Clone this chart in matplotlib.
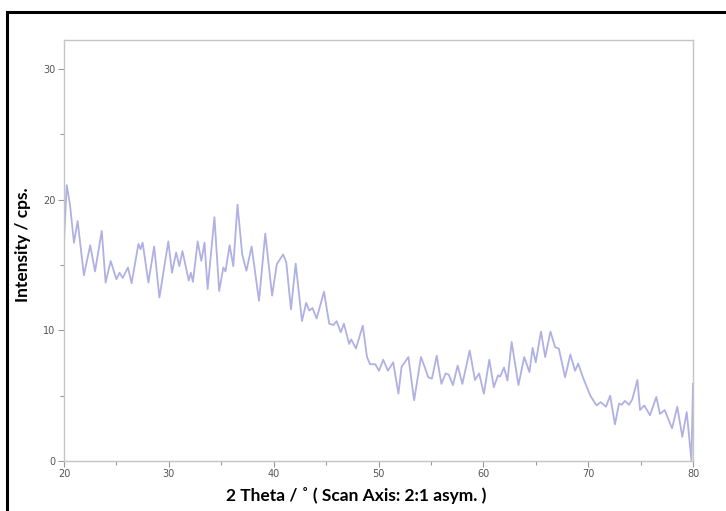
import matplotlib
matplotlib.use("Agg")
import matplotlib.pyplot as plt
from matplotlib.patches import Rectangle
from matplotlib.ticker import MultipleLocator

# scan: 2 theta (deg) and intensity (cps), read at peaks / valleys
two_theta = [
    20.0, 20.26, 20.57, 20.95, 21.3, 21.9, 22.5, 22.96, 23.6, 23.97,
    24.45, 25.0, 25.3, 25.6, 26.1, 26.45, 27.1, 27.3, 27.5, 28.05,
    28.6, 29.1, 29.95, 30.3, 30.7, 31.0, 31.3, 31.9, 32.1, 32.3,
    32.75, 33.1, 33.4, 33.7, 34.35, 34.8, 35.2, 35.4, 35.8, 36.15,
    36.55, 37.0, 37.4, 37.9, 38.6, 39.2, 39.85, 40.3, 40.9, 41.2,
    41.65, 42.1, 42.7, 43.1, 43.4, 43.7, 44.1, 44.8, 45.3, 45.7,
    46.0, 46.4, 46.7, 47.2, 47.4, 47.85, 48.5, 48.9, 49.2, 49.7,
    50.05, 50.45, 50.9, 51.4, 51.9, 52.2, 52.85, 53.4, 54.05, 54.4,
    54.75, 55.1, 55.55, 56.0, 56.4, 56.7, 57.1, 57.55, 58.0, 58.7,
    59.2, 59.6, 60.05, 60.57, 61.0, 61.4, 61.6, 61.97, 62.3, 62.7,
    63.35, 63.9, 64.4, 64.7, 65.0, 65.5, 65.9, 66.4, 66.85, 67.2,
    67.8, 68.3, 68.75, 69.05, 69.5, 70.0, 70.2, 70.8, 71.2, 71.7,
    72.1, 72.55, 72.95, 73.2, 73.5, 73.9, 74.2, 74.7, 74.95, 75.35,
    75.9, 76.5, 76.85, 77.3, 78.0, 78.5, 78.98, 79.4, 79.85, 80.0,
]
intensity = [
    16.8, 21.1, 19.6, 16.7, 18.35, 14.2, 16.5, 14.5, 17.6, 13.65,
    15.3, 13.9, 14.4, 14.0, 14.8, 13.6, 16.6, 16.2, 16.7, 13.65,
    16.4, 12.5, 16.8, 14.4, 15.95, 14.9, 16.05, 13.8, 14.4, 13.7,
    16.8, 15.3, 16.7, 13.15, 18.65, 13.0, 14.8, 14.5, 16.5, 14.9,
    19.6, 15.8, 14.55, 16.4, 12.25, 17.4, 12.65, 15.05, 15.8, 15.2,
    11.6, 15.1, 10.7, 12.1, 11.5, 11.7, 10.9, 12.95, 10.5, 10.4,
    10.7, 9.85, 10.5, 8.95, 9.3, 8.6, 10.35, 7.95, 7.4, 7.4,
    6.9, 7.75, 6.9, 7.55, 5.15, 7.2, 7.95, 4.65, 7.95, 7.2,
    6.4, 6.3, 8.05, 5.9, 6.7, 6.6, 5.8, 7.3, 5.9, 8.45,
    6.2, 6.7, 5.15, 7.75, 5.65, 6.55, 6.45, 7.15, 6.15, 9.1,
    5.8, 7.95, 6.8, 8.65, 7.55, 9.9, 7.95, 9.9, 8.7, 8.6,
    6.4, 8.15, 6.9, 7.45, 6.4, 5.4, 5.0, 4.25, 4.5, 4.15,
    5.0, 2.8, 4.4, 4.3, 4.6, 4.3, 4.7, 6.2, 3.9, 4.25,
    3.5, 4.9, 3.6, 3.9, 2.5, 4.15, 1.85, 3.75, 0.05, 5.9,
]

fig = plt.figure(figsize=(7.26, 5.11), dpi=100)
ax = fig.add_axes([64 / 726, 50 / 511, 629 / 726, 421 / 511])

ax.plot(two_theta, intensity, color="#b0b0e4", lw=1.3, solid_joinstyle="round")

ax.set_xlim(20, 80)
ax.set_ylim(0, 32.2)
ax.xaxis.set_major_locator(MultipleLocator(10))
ax.xaxis.set_minor_locator(MultipleLocator(5))
ax.yaxis.set_major_locator(MultipleLocator(10))
ax.yaxis.set_minor_locator(MultipleLocator(5))

for s in ax.spines.values():
    s.set_color("#c4c4c4")
    s.set_linewidth(1.0)
ax.tick_params(which="both", direction="out", color="#999999", width=0.8,
               labelsize=7, labelcolor="#555555", pad=2)
ax.tick_params(which="major", length=4)
ax.tick_params(which="minor", length=3)
for lab in ax.get_xticklabels() + ax.get_yticklabels():
    lab.set_family(["Liberation Sans Narrow", "DejaVu Sans"])

# axis titles
fig.text(356 / 726, 1 - 496 / 511, "2 Theta / ˚ ( Scan Axis: 2:1 asym. )",
         fontsize=12.5, fontweight="bold", family=["Lato", "DejaVu Sans"],
         ha="center", va="center")
fig.text(23 / 726, 1 - 245 / 511, "Intensity / cps.", rotation=90,
         fontsize=12.5, fontweight="bold", family=["Lato", "DejaVu Sans"],
         ha="center", va="center")

# black frame around the plot, open on the right and bottom
fig.add_artist(Rectangle((7 / 726, -0.1), 1.2, (511 - 12) / 511 + 0.1,
                         transform=fig.transFigure, fill=False,
                         edgecolor="black", lw=2.2, clip_on=False))

fig.savefig("out.png", dpi=100)
